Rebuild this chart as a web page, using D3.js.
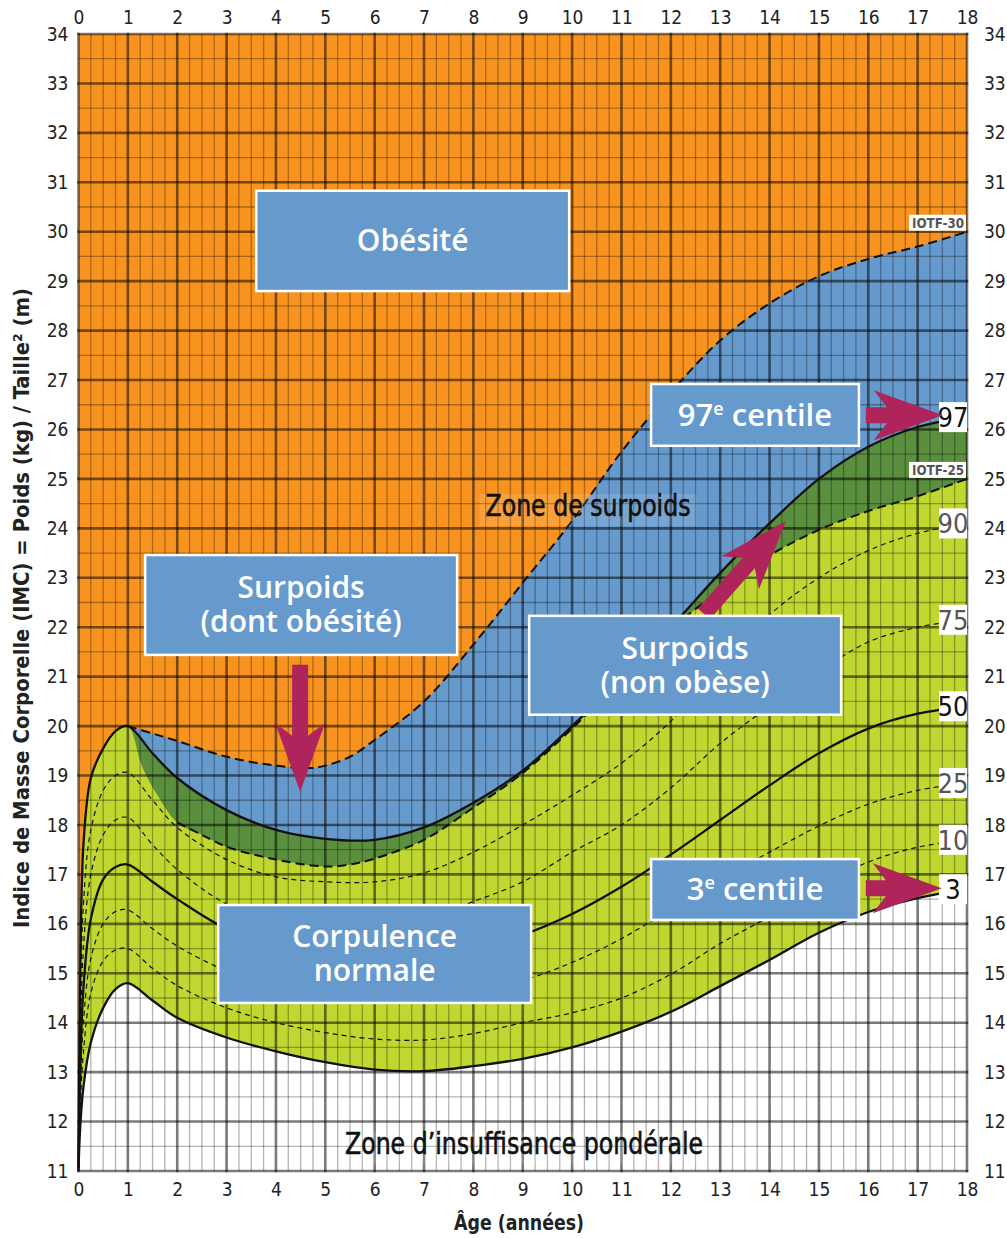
<!DOCTYPE html>
<html>
<head>
<meta charset="utf-8">
<script src="https://cdn.jsdelivr.net/npm/d3@7"></script>
<style>
  body { margin: 0; background: #fff; }
  svg { display: block; }
</style>
</head>
<body>
<div id="chart-area"></div>
<script>
/*
*    courbe IMC - garçons 0-18 ans
*/

// Data : âges communs aux centiles
var ages = [0, 0.03, 0.1, 0.25, 0.5, 0.75, 1, 1.5, 2, 3, 4, 5, 6, 7, 8, 9, 10, 11, 12, 13, 14, 15, 16, 17, 18];
var p97 = [11.1, 14.5, 17.6, 18.95, 19.55, 19.9, 20.0, 19.45, 18.95, 18.3, 17.9, 17.72, 17.7, 17.95, 18.45, 19.1, 20.0, 21.0, 22.0, 23.1, 24.1, 25.0, 25.65, 26.05, 26.25];
var p90 = [11.1, 13.8, 16.4, 17.9, 18.7, 19.0, 19.06, 18.5, 17.95, 17.3, 16.95, 16.85, 16.85, 17.03, 17.45, 18.0, 18.6, 19.25, 20.1, 21.2, 22.25, 23.0, 23.55, 23.9, 24.1];
var p75 = [11.1, 13.3, 15.5, 17.0, 17.8, 18.1, 18.15, 17.6, 17.1, 16.4, 16.05, 15.9, 15.9, 16.1, 16.45, 16.85, 17.45, 18.0, 18.75, 19.65, 20.4, 21.1, 21.7, 22.0, 22.15];
var p50 = [11.05, 12.8, 14.7, 16.1, 16.9, 17.15, 17.2, 16.85, 16.5, 15.9, 15.6, 15.45, 15.35, 15.38, 15.52, 15.78, 16.2, 16.75, 17.4, 18.1, 18.8, 19.45, 19.95, 20.25, 20.4];
var p25 = [11.05, 12.5, 14.0, 15.3, 16.0, 16.25, 16.28, 15.9, 15.55, 15.05, 14.75, 14.58, 14.48, 14.48, 14.6, 14.85, 15.22, 15.7, 16.3, 16.9, 17.45, 17.98, 18.42, 18.7, 18.85];
var p10 = [11.0, 12.2, 13.4, 14.6, 15.25, 15.47, 15.5, 15.1, 14.75, 14.3, 14.0, 13.8, 13.67, 13.65, 13.78, 14.0, 14.2, 14.5, 14.98, 15.6, 16.15, 16.75, 17.25, 17.55, 17.7];
var p3  = [11.0, 11.8, 12.7, 13.6, 14.3, 14.68, 14.8, 14.45, 14.1, 13.7, 13.42, 13.2, 13.05, 13.02, 13.12, 13.27, 13.5, 13.82, 14.22, 14.74, 15.27, 15.82, 16.24, 16.52, 16.7];

// seuils IOTF
var iotf30Ages = [1, 1.5, 2, 3, 4, 4.7, 5, 5.5, 6, 7, 8, 9, 10, 11, 12, 13, 14, 15, 16, 17, 18];
var iotf30 = [20.0, 19.85, 19.7, 19.38, 19.2, 19.15, 19.2, 19.38, 19.72, 20.5, 21.65, 22.9, 24.15, 25.55, 26.75, 27.8, 28.55, 29.1, 29.45, 29.7, 30.0];
var iotf25Ages = [1, 1.3, 1.6, 2, 2.5, 3, 4, 5, 5.5, 6, 7, 8, 9, 10, 11, 12, 13, 14, 15, 16, 17, 18];
var iotf25 = [20.0, 19.15, 18.6, 18.05, 17.8, 17.56, 17.3, 17.16, 17.2, 17.32, 17.7, 18.35, 19.05, 19.95, 20.95, 21.95, 22.75, 23.45, 23.97, 24.35, 24.65, 25.0];

// Tick labels
var ageTicks = [0, 1, 2, 3, 4, 5, 6, 7, 8, 9, 10, 11, 12, 13, 14, 15, 16, 17, 18];
var bmiTicks = [11, 12, 13, 14, 15, 16, 17, 18, 19, 20, 21, 22, 23, 24, 25, 26, 27, 28, 29, 30, 31, 32, 33, 34];
var centileNames = ["97", "90", "75", "50", "25", "10", "3"];
var centileValues = [p97, p90, p75, p50, p25, p10, p3];

var width = 1007;
var height = 1238;
var narrow = '"Liberation Sans Narrow", "DejaVu Sans Condensed", "Arial Narrow", sans-serif';
var myriad = '"Open Sans", "Noto Sans", sans-serif';

var colOrange = "#f7931e", colBlue = "#6699cc", colDark = "#5a8f3e", colLight = "#bfd730", colArrow = "#b0245c";

var svg = d3.select("#chart-area").append("svg").attr("width", width).attr("height", height);

// Scales
var x = d3.scaleLinear().domain([0, 18]).range([78.5, 967]);
var y = d3.scaleLinear().domain([11, 34]).range([1171, 34]);

var pairs = (xs, ys) => xs.map((a, i) => [a, ys[i]]);

var smooth = d3.curveCatmullRom.alpha(0.5);
var line = d3.line().x(d => x(d[0])).y(d => y(d[1])).curve(smooth);
var area = d3.area().x(d => x(d[0])).y0(y(11)).y1(d => y(d[1])).curve(smooth);

var g = svg.append("g");

// Zones
g.append("rect").attr("x", x(0)).attr("y", y(34)).attr("width", x(18) - x(0)).attr("height", y(11) - y(34)).attr("fill", colOrange);
g.append("path").attr("d", area(pairs(iotf30Ages, iotf30))).attr("fill", colBlue);
g.append("path").attr("d", area(pairs(ages, p97).filter(d => d[0] >= 1))).attr("fill", colDark);
var lightTop = pairs(ages, p97).filter(d => d[0] < 1).concat(pairs(iotf25Ages, iotf25));
g.append("path").attr("d", area(lightTop)).attr("fill", colLight);
g.append("path").attr("d", area(pairs(ages, p3))).attr("fill", "#fff");

// Grid
var grid = svg.append("g").attr("stroke", "#000");
var minorX = d3.range(0, 18.01, 0.25).filter(v => v % 1 !== 0);
var minorY = d3.range(11, 34.01, 0.5).filter(v => v % 1 !== 0);
grid.selectAll(".mx").data(minorX).enter().append("line")
  .attr("x1", d => x(d)).attr("x2", d => x(d)).attr("y1", y(11)).attr("y2", y(34))
  .attr("stroke-opacity", 0.3).attr("stroke-width", 1.3);
grid.selectAll(".my").data(minorY).enter().append("line")
  .attr("y1", d => y(d)).attr("y2", d => y(d)).attr("x1", x(0)).attr("x2", x(18))
  .attr("stroke-opacity", 0.3).attr("stroke-width", 1.3);
grid.selectAll(".Mx").data(ageTicks).enter().append("line")
  .attr("x1", d => x(d)).attr("x2", d => x(d)).attr("y1", y(11) + 1.3).attr("y2", y(34) - 1.3)
  .attr("stroke-opacity", 0.52).attr("stroke-width", 2.6);
grid.selectAll(".My").data(bmiTicks).enter().append("line")
  .attr("y1", d => y(d)).attr("y2", d => y(d)).attr("x1", x(0) - 1.3).attr("x2", x(18) + 1.3)
  .attr("stroke-opacity", 0.52).attr("stroke-width", 2.6);

// Courbes
var curves = svg.append("g").attr("fill", "none").attr("stroke", "#111");
curves.append("path").attr("d", line(pairs(iotf30Ages, iotf30)))
  .attr("stroke-width", 2).attr("stroke-dasharray", "9,5");
curves.append("path").attr("d", line(pairs(iotf25Ages, iotf25).filter(d => d[0] >= 2)))
  .attr("stroke-width", 2).attr("stroke-dasharray", "9,5");
centileNames.forEach((name, i) => {
  var solid = (name === "97" || name === "50" || name === "3");
  curves.append("path").attr("d", line(pairs(ages, centileValues[i])))
    .attr("stroke-width", solid ? 2.3 : 1.2)
    .attr("stroke-dasharray", solid ? null : "5,4");
});

// Axes
var axisFont = (sel) => {
  sel.select(".domain").remove();
  sel.selectAll("text").attr("font-family", narrow).attr("font-size", 19).attr("fill", "#222");
};
svg.append("g").attr("transform", "translate(0," + y(34) + ")")
  .call(d3.axisTop(x).tickValues(ageTicks).tickSize(0).tickPadding(10)).call(axisFont);
svg.append("g").attr("transform", "translate(0," + y(11) + ")")
  .call(d3.axisBottom(x).tickValues(ageTicks).tickSize(0).tickPadding(12)).call(axisFont);
svg.append("g").attr("transform", "translate(" + x(0) + ",0)")
  .call(d3.axisLeft(y).tickValues(bmiTicks).tickSize(0).tickPadding(10)).call(axisFont);
svg.append("g").attr("transform", "translate(" + x(18) + ",0)")
  .call(d3.axisRight(y).tickValues(bmiTicks).tickSize(0).tickPadding(17)).call(axisFont);

// Titres d'axes
svg.append("text").attr("x", 519).attr("y", 1230).attr("text-anchor", "middle")
  .attr("font-family", narrow).attr("font-weight", "bold").attr("font-size", 22).attr("fill", "#222")
  .attr("textLength", 130).attr("lengthAdjust", "spacingAndGlyphs").text("Âge (années)");
svg.append("text").attr("transform", "translate(29," + 608 + ") rotate(-90)").attr("text-anchor", "middle")
  .attr("font-family", narrow).attr("font-weight", "bold").attr("font-size", 22).attr("fill", "#222")
  .attr("textLength", 640).attr("lengthAdjust", "spacingAndGlyphs")
  .text("Indice de Masse Corporelle (IMC) = Poids (kg) / Taille² (m)");

// Zones texte
var zoneText = (cx, cy, w, txt) => {
  svg.append("rect").attr("x", cx - w / 2 - 6).attr("y", cy - 22).attr("width", w + 12).attr("height", 32)
    .attr("fill", "#fff").attr("fill-opacity", 0.12);
  svg.append("text").attr("x", cx).attr("y", cy).attr("text-anchor", "middle")
    .attr("font-family", narrow).attr("font-size", 30).attr("fill", "#111")
    .attr("stroke", "#111").attr("stroke-width", 0.6)
    .attr("textLength", w).attr("lengthAdjust", "spacingAndGlyphs").text(txt);
};
zoneText(588, 516, 205, "Zone de surpoids");
zoneText(524, 1154, 358, "Zone d’insuffisance pondérale");

// Etiquettes IOTF
[["IOTF-30", 30], ["IOTF-25", 25]].forEach(d => {
  svg.append("rect").attr("x", x(18) - 58).attr("y", y(d[1]) - 17).attr("width", 57).attr("height", 16).attr("fill", "#fff");
  svg.append("text").attr("x", x(18) - 3).attr("y", y(d[1]) - 4).attr("text-anchor", "end")
    .attr("font-family", narrow).attr("font-weight", "bold").attr("font-size", 14).attr("fill", "#555")
    .attr("textLength", 52).attr("lengthAdjust", "spacingAndGlyphs").text(d[0]);
});

// Etiquettes des centiles
centileNames.forEach((name, i) => {
  var v = centileValues[i][centileValues[i].length - 1];
  var solid = (name === "97" || name === "50" || name === "3");
  svg.append("rect").attr("x", x(18) - 28).attr("y", y(v) - 15).attr("width", 28).attr("height", 30).attr("fill", "#fff");
  svg.append("text").attr("x", x(18) - 14).attr("y", y(v) + 10).attr("text-anchor", "middle")
    .attr("font-family", narrow).attr("font-size", 27).attr("fill", solid ? "#111" : "#555")
    .text(name);
});

// Flèches
var arrow = (a0, b0, a1, b1) => {
  var x0 = x(a0), y0 = y(b0), x1 = x(a1), y1 = y(b1);
  var len = Math.hypot(x1 - x0, y1 - y0);
  var ux = (x1 - x0) / len, uy = (y1 - y0) / len, nx = -uy, ny = ux;
  var sw = 8, hw = 25, hl = 56, back = 13;
  var jx = x1 - ux * hl, jy = y1 - uy * hl;
  var bx = x1 - ux * (hl + back), by = y1 - uy * (hl + back);
  var pts = [
    [x0 + nx * sw, y0 + ny * sw], [jx + nx * sw, jy + ny * sw], [bx + nx * hw, by + ny * hw],
    [x1, y1],
    [bx - nx * hw, by - ny * hw], [jx - nx * sw, jy - ny * sw], [x0 - nx * sw, y0 - ny * sw]
  ];
  svg.append("path").attr("d", "M" + pts.join("L") + "Z").attr("fill", colArrow);
};
arrow(4.49, 21.24, 4.49, 18.67);
arrow(15.95, 26.29, 17.51, 26.29);
arrow(15.95, 16.72, 17.49, 16.72);
arrow(12.67, 22.27, 14.33, 24.15);

// Encadrés
var box = (a0, a1, b0, b1, lines, size) => {
  var bx = x(a0), bw = x(a1) - x(a0), by = y(b0), bh = y(b1) - y(b0);
  svg.append("rect").attr("x", bx).attr("y", by).attr("width", bw).attr("height", bh)
    .attr("fill", colBlue).attr("stroke", "#fff").attr("stroke-width", 2.5);
  var lh = 34, top = by + bh / 2 - (lines.length - 1) * lh / 2;
  var t = svg.append("text").attr("text-anchor", "middle").attr("font-family", myriad).attr("font-weight", 600)
    .attr("font-size", size).attr("fill", "#fff");
  lines.forEach((s, i) => {
    t.append("tspan").attr("x", bx + bw / 2).attr("y", top + i * lh).attr("dy", "0.35em").text(s);
  });
};
box(3.6, 9.94, 30.83, 28.8, ["Obésité"], 30);
box(1.35, 7.67, 23.46, 21.44, ["Surpoids", "(dont obésité)"], 30);
box(9.13, 15.45, 22.23, 20.23, ["Surpoids", "(non obèse)"], 30);
box(2.83, 9.17, 16.38, 14.4, ["Corpulence", "normale"], 30);

var centileBox = (a0, a1, b0, b1, num) => {
  var bx = x(a0), bw = x(a1) - x(a0), by = y(b0), bh = y(b1) - y(b0);
  svg.append("rect").attr("x", bx).attr("y", by).attr("width", bw).attr("height", bh)
    .attr("fill", colBlue).attr("stroke", "#fff").attr("stroke-width", 2.5);
  var t = svg.append("text").attr("x", bx + bw / 2).attr("y", by + bh / 2 + 11).attr("text-anchor", "middle")
    .attr("font-family", myriad).attr("font-weight", 600).attr("font-size", 31).attr("fill", "#fff");
  t.append("tspan").text(num);
  t.append("tspan").attr("dy", -11).attr("font-size", 18).text("e");
  t.append("tspan").attr("dy", 11).text(" centile");
};
centileBox(11.6, 15.81, 26.92, 25.67, "97");
centileBox(11.6, 15.81, 17.31, 16.08, "3");
</script>
</body>
</html>
